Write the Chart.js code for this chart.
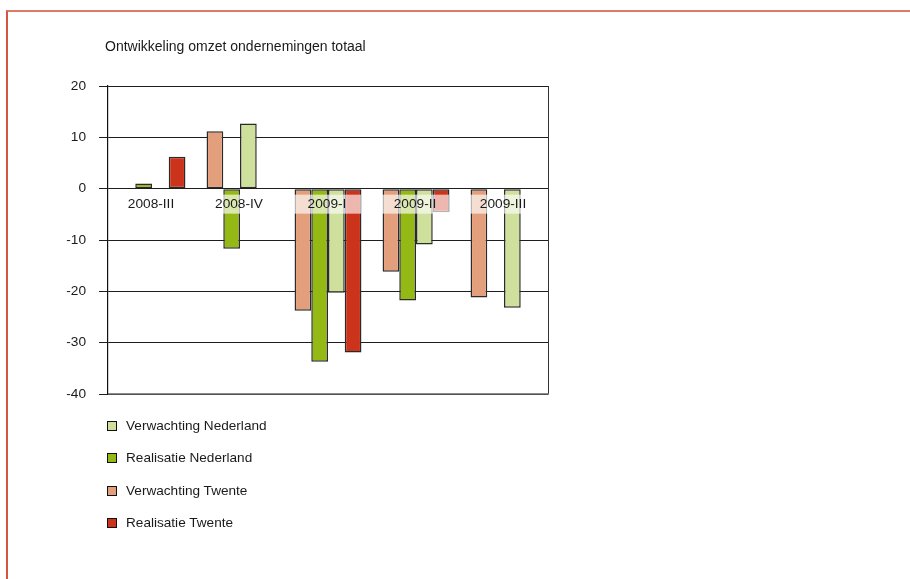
<!DOCTYPE html>
<html>
<head>
<meta charset="utf-8">
<script src="https://cdn.jsdelivr.net/npm/chart.js@4/dist/chart.umd.min.js"></script>
<style>
  html, body { margin: 0; padding: 0; background: #fff; }
  body { width: 910px; height: 579px; position: relative; overflow: hidden; font-family: Arial, "Liberation Sans", sans-serif; }
  #frame { position: absolute; left: 6px; top: 10px; width: 1000px; height: 1000px;
           border-left: 2px solid #d4553e; border-top: 2px solid #df7a66; }
  #wrap { position: absolute; left: 0; top: 0; width: 910px; height: 579px; }
  #title { position: absolute; left: 105px; top: 38px; font-size: 14px; color: #1a1a1a; white-space: nowrap; }
  #legend { position: absolute; left: 107px; top: 0; }
  .item { position: absolute; left: 0; white-space: nowrap; font-size: 13.6px; color: #1a1a1a; }
  .sw { position: absolute; left: 0; top: 0; width: 10px; height: 10px; box-sizing: border-box; border: 1.6px solid #111; display: block; }
  .lbl { position: absolute; left: 19px; top: -3px; }
</style>
</head>
<body>
<div id="frame"></div>
<div id="wrap"><canvas id="c" width="910" height="579"></canvas></div>
<div id="title">Ontwikkeling omzet ondernemingen totaal</div>
<div id="legend"></div>
<script>
// ---- data ----
const categories = ['2008-III', '2008-IV', '2009-I', '2009-II', '2009-III'];
const verwachtingTwente     = [null, 11.2, -23.8, -16.2, -21.2];
const realisatieNederland   = [1.0, -11.7, -33.7, -21.8, null];
const verwachtingNederland  = [null, 12.7, -20.3, -10.9, -23.2];
const realisatieTwente      = [6.2, null, -31.9, -4.6, null];
const yTicks = [20, 10, 0, -10, -20, -30, -40];

const colors = {
  vn: '#cfdf9c',
  rn: '#95b914',
  vt: '#e39e7b',
  rt: '#cb331b'
};

const datasets = [
  { label: 'Verwachting Twente', data: verwachtingTwente, backgroundColor: colors.vt },
  { label: 'Realisatie Nederland', data: realisatieNederland, backgroundColor: colors.rn },
  { label: 'Verwachting Nederland', data: verwachtingNederland, backgroundColor: colors.vn },
  { label: 'Realisatie Twente', data: realisatieTwente, backgroundColor: colors.rt }
].map(d => Object.assign(d, { borderColor: '#2a2a2a', borderWidth: 1.5, borderSkipped: false }));

const legendOrder = [
  { label: 'Verwachting Nederland', color: colors.vn, top: 421 },
  { label: 'Realisatie Nederland', color: colors.rn, top: 453 },
  { label: 'Verwachting Twente', color: colors.vt, top: 486 },
  { label: 'Realisatie Twente', color: colors.rt, top: 518 }
];

const leg = document.getElementById('legend');
legendOrder.forEach(it => {
  const d = document.createElement('div');
  d.className = 'item';
  d.style.top = it.top + 'px';
  d.innerHTML = '<span class="sw" style="background:' + it.color + '"></span><span class="lbl">' + it.label + '</span>';
  leg.appendChild(d);
});

const catLabels = {
  id: 'catLabels',
  afterDatasetsDraw(chart) {
    const ctx = chart.ctx, xs = chart.scales.x, ys = chart.scales.y;
    const y0 = ys.getPixelForValue(0);
    ctx.save();
    ctx.font = '13.7px Arial, "Liberation Sans", sans-serif';
    ctx.textAlign = 'center';
    ctx.textBaseline = 'middle';
    categories.forEach((c, i) => {
      const cx = xs.getPixelForValue(i) - 1;
      ctx.fillStyle = 'rgba(255,255,255,0.65)';
      ctx.fillRect(cx - 34, y0 + 6, 68, 19);
      ctx.fillStyle = '#1a1a1a';
      ctx.fillText(c, cx, y0 + 15.5);
    });
    ctx.restore();
  }
};

const frameLines = {
  id: 'frameLines',
  afterDatasetsDraw(chart) {
    const a = chart.chartArea, ctx = chart.ctx;
    ctx.save();
    ctx.strokeStyle = '#333';
    ctx.lineWidth = 1;
    ctx.beginPath();
    ctx.moveTo(Math.round(a.right) + 0.5, a.top);
    ctx.lineTo(Math.round(a.right) + 0.5, a.bottom);
    ctx.stroke();
    ctx.strokeStyle = '#666';
    ctx.lineWidth = 1.6;
    ctx.beginPath();
    ctx.moveTo(a.left, a.bottom);
    ctx.lineTo(a.right + 1, a.bottom);
    ctx.stroke();
    ctx.restore();
  }
};

new Chart(document.getElementById('c'), {
  type: 'bar',
  data: { labels: categories, datasets },
  plugins: [catLabels, frameLines],
  options: {
    responsive: false,
    animation: false,
    layout: { padding: { left: 48, top: 86, right: 362, bottom: 185 } },
    datasets: { bar: { categoryPercentage: 0.76, barPercentage: 1.0 } },
    plugins: { legend: { display: false }, title: { display: false }, tooltip: { enabled: false } },
    scales: {
      x: { display: false },
      y: {
        min: -40, max: 20,
        afterFit(scale) { scale.width = 60; },
        afterBuildTicks(scale) { scale.ticks = yTicks.map(v => ({ value: v })); },
        ticks: { color: '#1a1a1a', padding: 13, font: { family: 'Arial, "Liberation Sans", sans-serif', size: 13.7 } },
        grid: { color: '#1e1e1e', lineWidth: 1, tickLength: 9, drawOnChartArea: true },
        border: { color: '#111', width: 1.2 }
      }
    }
  }
});
</script>
</body>
</html>
